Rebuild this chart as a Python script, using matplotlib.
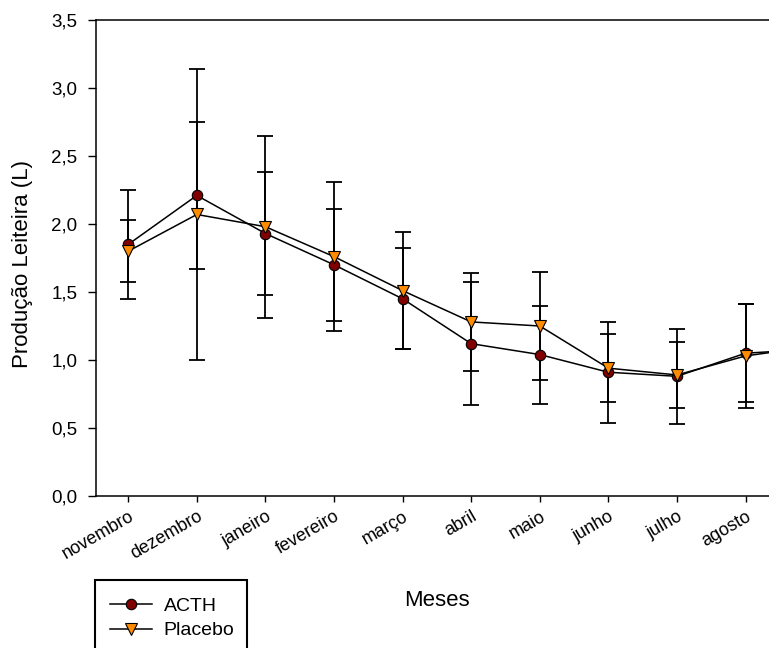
import numpy as np
import matplotlib
matplotlib.use("Agg")
import matplotlib.pyplot as plt
from matplotlib.patches import Rectangle
from matplotlib.lines import Line2D

plt.rcParams['font.family'] = ['Liberation Sans', 'DejaVu Sans']

# ---- data ----
months = ['novembro', 'dezembro', 'janeiro', 'fevereiro', 'março', 'abril',
          'maio', 'junho', 'julho', 'agosto', 'setembro']
acth = [1.85, 2.21, 1.93, 1.70, 1.45, 1.12, 1.04, 0.91, 0.88, 1.05, 1.08]
acth_err = [0.40, 0.54, 0.45, 0.41, 0.37, 0.45, 0.36, 0.37, 0.35, 0.36, 0.35]
placebo = [1.80, 2.07, 1.98, 1.76, 1.51, 1.28, 1.25, 0.94, 0.89, 1.03, 1.10]
placebo_err = [0.23, 1.07, 0.67, 0.55, 0.43, 0.36, 0.40, 0.25, 0.24, 0.38, 0.35]

x = np.arange(len(months))

fig = plt.figure(figsize=(7.69, 6.48), dpi=100)
ax = fig.add_axes([96 / 769, 1 - 496 / 648, (784 - 96) / 769, (496 - 20) / 648])

err_kw = dict(ecolor='black', elinewidth=1.3, capsize=6, capthick=1.3)
ax.errorbar(x, acth, yerr=acth_err, fmt='none', **err_kw, zorder=2)
ax.errorbar(x, placebo, yerr=placebo_err, fmt='none', **err_kw, zorder=2)
ax.plot(x, acth, '-', color='black', lw=1.1, marker='o', ms=7.5,
        mfc='#800000', mec='black', mew=0.8, zorder=3)
ax.plot(x, placebo, '-', color='black', lw=1.1, marker='v', ms=8.5,
        mfc='#ff8c00', mec='black', mew=0.8, zorder=4)

ax.set_xticks(x)
ax.set_xticklabels(months, rotation=30, ha='right', rotation_mode='anchor')
ax.set_xlim(-0.47, 9.56)
ax.set_yticks(np.arange(0, 3.51, 0.5))
ax.set_yticklabels([f'{v:.1f}'.replace('.', ',') for v in np.arange(0, 3.51, 0.5)])
ax.set_ylim(0, 3.5)
ax.tick_params(axis='y', direction='out', length=6, width=1, labelsize=13.5, pad=7.5)
ax.tick_params(axis='x', direction='out', length=4.5, width=1, labelsize=13, pad=4)
for s in ax.spines.values():
    s.set_linewidth(1.1)

ax.set_ylabel('Produção Leiteira (L)', fontsize=16)
ax.yaxis.set_label_coords(-(96 - 33) / (784 - 96), (496 - 264) / (496 - 20))
ax.set_xlabel('Meses', fontsize=16)
ax.xaxis.set_label_coords((437 - 96) / (784 - 96), -(590 - 496) / (496 - 20))

# legend box, running off the bottom of the image
fig.patches.append(Rectangle((95 / 769, -0.05), (247 - 95) / 769, 1 - 580 / 648 + 0.05,
                             transform=fig.transFigure, fill=False,
                             edgecolor='black', lw=1.5))
handles = [
    Line2D([], [], color='black', lw=1.1, marker='o', ms=7.5, mfc='#800000',
           mec='black', mew=0.8),
    Line2D([], [], color='black', lw=1.1, marker='v', ms=8.5, mfc='#ff8c00',
           mec='black', mew=0.8),
]
fig.legend(handles, ['ACTH', 'Placebo'], loc='upper left',
           bbox_to_anchor=(96 / 769, 1 - 584 / 648), frameon=False,
           fontsize=14, handlelength=2.2, handletextpad=0.57,
           labelspacing=0.34, borderpad=0.2)

fig.savefig('out.png', dpi=100)
